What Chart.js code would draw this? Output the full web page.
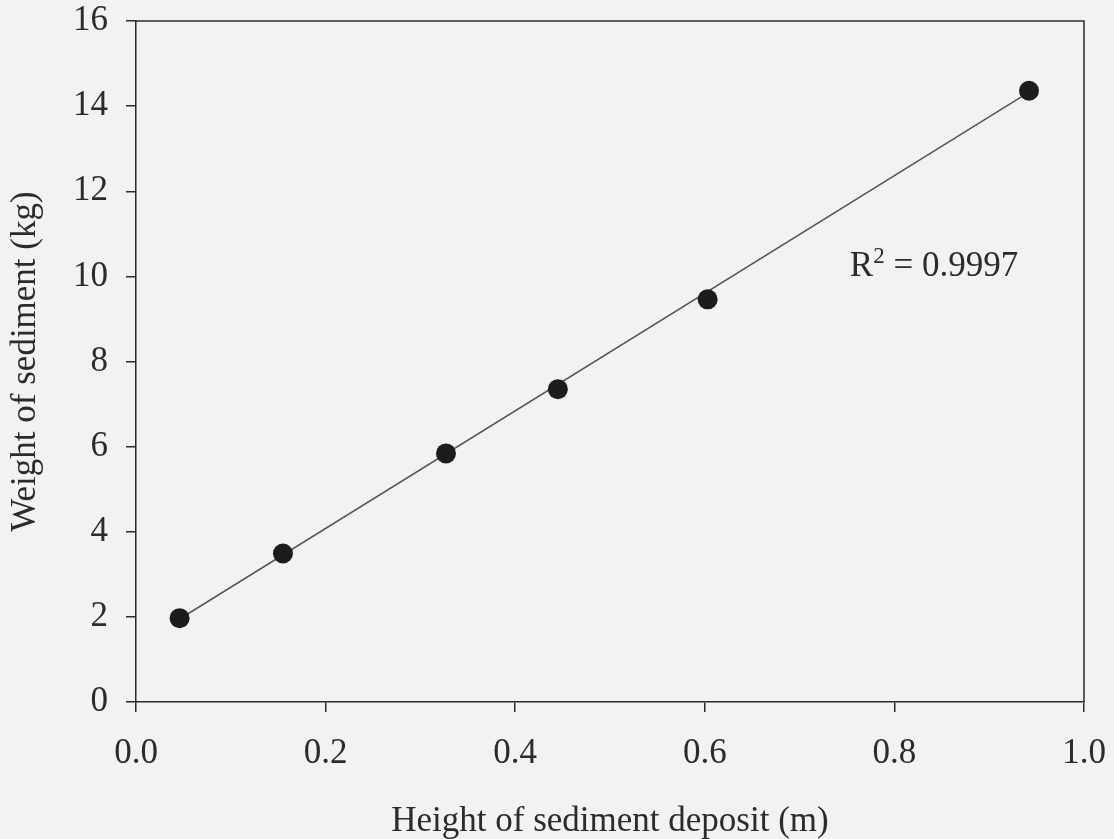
<!DOCTYPE html>
<html>
<head>
<meta charset="utf-8">
<title>Weight vs height of sediment</title>
<script src="https://cdn.jsdelivr.net/npm/chart.js@4/dist/chart.umd.min.js"></script>
<style>
  html, body { margin: 0; padding: 0; background: #f2f2f2; }
  #wrap { width: 1114px; height: 839px; }
</style>
</head>
<body>
<div id="wrap"><canvas id="sedimentChart" width="1114" height="839"></canvas></div>
<script>
// data
const heights = [0.046, 0.155, 0.327, 0.445, 0.603, 0.942];
const weights = [1.97, 3.49, 5.84, 7.35, 9.46, 14.36];

// trend line ends (drawn through first and last point)
const trendX = [0.046, 0.942];
const trendY = [1.95, 14.33];

const xTicks = [0, 0.2, 0.4, 0.6, 0.8, 1.0];
const yTicks = [0, 2, 4, 6, 8, 10, 12, 14, 16];

const rSquared = '0.9997';

const FONT = '"Liberation Serif", "Times New Roman", serif';
const INK = '#2b2b2b';

// background + frame (top and right sides of the box)
const framePlugin = {
  id: 'frame',
  beforeDraw(chart) {
    const ctx = chart.ctx;
    ctx.save();
    ctx.fillStyle = '#f2f2f2';
    ctx.fillRect(0, 0, chart.width, chart.height);
    ctx.restore();
  },
  afterDraw(chart) {
    const { ctx, chartArea: a, scales } = chart;
    ctx.save();
    ctx.strokeStyle = INK;
    ctx.lineWidth = 1.5;
    ctx.beginPath();
    ctx.moveTo(a.left, a.top);
    ctx.lineTo(a.right, a.top);
    ctx.lineTo(a.right, a.bottom);
    ctx.stroke();

    // R^2 label
    const x = scales.x.getPixelForValue(0.753);
    const y = scales.y.getPixelForValue(10.0);
    ctx.fillStyle = INK;
    ctx.textBaseline = 'alphabetic';
    ctx.textAlign = 'left';
    ctx.font = '35px ' + FONT;
    ctx.fillText('R', x, y);
    let w = ctx.measureText('R').width;
    ctx.font = '23px ' + FONT;
    ctx.fillText('2', x + w, y - 13);
    w += ctx.measureText('2').width;
    ctx.font = '35px ' + FONT;
    ctx.fillText(' = ' + rSquared, x + w, y);
    ctx.restore();
  }
};

const ctx = document.getElementById('sedimentChart').getContext('2d');
new Chart(ctx, {
  type: 'scatter',
  data: {
    datasets: [
      {
        label: 'Measured',
        data: heights.map((h, i) => ({ x: h, y: weights[i] })),
        pointRadius: 10,
        pointBackgroundColor: '#1c1c1c',
        pointBorderWidth: 0
      },
      {
        label: 'Trend',
        data: trendX.map((h, i) => ({ x: h, y: trendY[i] })),
        showLine: true,
        pointRadius: 0,
        borderColor: '#555',
        borderWidth: 1.5
      }
    ]
  },
  options: {
    responsive: false,
    animation: false,
    layout: { autoPadding: false, padding: { top: 21, right: 30, left: 0, bottom: 0 } },
    plugins: {
      legend: { display: false },
      tooltip: { enabled: false }
    },
    scales: {
      x: {
        type: 'linear',
        min: 0,
        max: 1,
        afterBuildTicks: axis => { axis.ticks = xTicks.map(v => ({ value: v })); },
        afterFit: axis => {
          axis.height = 137;
          axis.paddingLeft = 0;
          axis.paddingRight = 0;
        },
        border: { display: true, color: INK, width: 1.5 },
        grid: { drawOnChartArea: false, drawTicks: true, tickLength: 10, color: INK, lineWidth: 1.5 },
        ticks: {
          color: INK,
          padding: 21,
          font: { family: FONT, size: 35 },
          callback: v => Number(v).toFixed(1)
        },
        title: {
          display: true,
          text: 'Height of sediment deposit (m)',
          color: INK,
          font: { family: FONT, size: 35, lineHeight: 1 },
          padding: { top: 0, bottom: 0 }
        }
      },
      y: {
        type: 'linear',
        min: 0,
        max: 16,
        afterBuildTicks: axis => { axis.ticks = yTicks.map(v => ({ value: v })); },
        afterFit: axis => {
          axis.width = 136;
          axis.paddingTop = 0;
          axis.paddingBottom = 0;
        },
        border: { display: true, color: INK, width: 1.5 },
        grid: { drawOnChartArea: false, drawTicks: true, tickLength: 10, color: INK, lineWidth: 1.5 },
        ticks: {
          color: INK,
          padding: 18,
          font: { family: FONT, size: 35 }
        },
        title: {
          display: true,
          text: 'Weight of sediment (kg)',
          color: INK,
          font: { family: FONT, size: 35, lineHeight: 1 },
          padding: { top: 8, bottom: 0 }
        }
      }
    }
  },
  plugins: [framePlugin]
});
</script>
</body>
</html>
